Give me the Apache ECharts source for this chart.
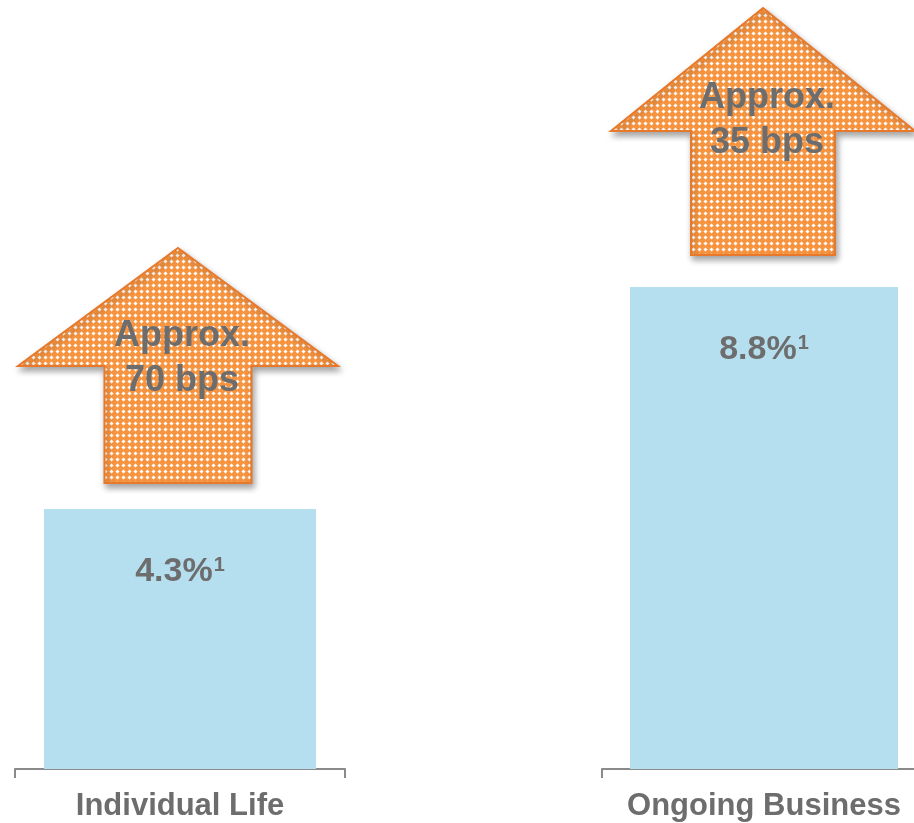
<!DOCTYPE html>
<html>
<head>
<meta charset="utf-8">
<script src="https://cdn.jsdelivr.net/npm/echarts@6/dist/echarts.min.js"></script>
<style>
html,body{margin:0;padding:0;background:#fff;}
#main{width:914px;height:823px;}
</style>
</head>
<body>
<div id="main"></div>
<script>
// ---- data ----
const categories = ['Individual Life', 'Ongoing Business'];
const values = [4.3, 8.8];
const valueLabels = ['4.3%', '8.8%'];
const footnotes = ['1', '1'];
const arrowLabels = ['Approx.\n70 bps', 'Approx.\n35 bps'];

// ---- pattern tile for arrows ----
function makePattern() {
  const c = document.createElement('canvas');
  c.width = 6; c.height = 6;
  const g = c.getContext('2d');
  g.fillStyle = '#F79440';
  g.fillRect(0, 0, 6, 6);
  g.fillStyle = '#FAB47A';
  [[3,1],[1,3],[5,3],[3,5]].forEach(p => g.fillRect(p[0], p[1], 1, 1));
  g.fillStyle = '#FFFFFF';
  [[3,2],[2,3],[3,3],[4,3],[3,4]].forEach(p => g.fillRect(p[0], p[1], 1, 1));
  g.fillStyle = '#FBC99E';
  [[2,2],[4,2],[2,4],[4,4]].forEach(p => g.fillRect(p[0], p[1], 1, 1));
  return c;
}
const pattern = makePattern();

const textColor = '#6D6D6D';
const fontFam = '"Liberation Sans", Arial, sans-serif';

function arrowSeries(idx, dims) {
  return {
    type: 'custom',
    xAxisIndex: idx,
    yAxisIndex: idx,
    data: [[0, values[idx]]],
    z: 5,
    renderItem: function (params, api) {
      const p = api.coord([api.value(0), api.value(1)]);
      const cx = p[0] + dims.dx;
      const bottom = p[1] - dims.gap;
      const top = bottom - dims.total;
      const shoulder = top + dims.head;
      const pts = [
        [cx, top],
        [cx + dims.headHalf, shoulder],
        [cx + dims.shaftHalf, shoulder],
        [cx + dims.shaftHalf, bottom],
        [cx - dims.shaftHalf, bottom],
        [cx - dims.shaftHalf, shoulder],
        [cx - dims.headHalf, shoulder]
      ];
      return {
        type: 'group',
        children: [
          {
            type: 'polygon',
            shape: { points: pts },
            style: {
              fill: { image: pattern, repeat: 'repeat' },
              stroke: '#E8782A',
              lineWidth: 2,
              shadowColor: 'rgba(0,0,0,0.35)',
              shadowBlur: 6,
              shadowOffsetX: 2,
              shadowOffsetY: 4
            }
          },
          {
            type: 'text',
            style: {
              text: arrowLabels[idx],
              x: cx + 4,
              y: top + dims.textTop,
              align: 'center',
              verticalAlign: 'top',
              font: 'bold 36px ' + fontFam,
              lineHeight: 45,
              fill: textColor
            }
          }
        ]
      };
    }
  };
}

function barSeries(idx) {
  return {
    type: 'bar',
    xAxisIndex: idx,
    yAxisIndex: idx,
    data: [values[idx]],
    barWidth: idx === 0 ? 272 : 268,
    itemStyle: { color: '#B5DFEF' },
    label: {
      show: true,
      position: 'insideTop',
      distance: 46,
      formatter: '{a|' + valueLabels[idx] + '}{s|' + footnotes[idx] + '}',
      rich: {
        a: { fontSize: 34, fontWeight: 'bold', color: textColor, fontFamily: fontFam, lineHeight: 34 },
        s: { fontSize: 20, fontWeight: 'bold', color: textColor, fontFamily: fontFam, verticalAlign: 'top', lineHeight: 34, padding: [0, 0, 12, 1] }
      }
    }
  };
}

function xAxis(idx) {
  return {
    type: 'category',
    gridIndex: idx,
    data: [categories[idx]],
    boundaryGap: true,
    axisLine: { show: true, lineStyle: { color: '#8A8A8A', width: 2 } },
    axisTick: { show: true, inside: false, length: 9, lineStyle: { color: '#8A8A8A', width: 2 } },
    axisLabel: {
      margin: 22,
      fontSize: 31,
      fontWeight: 'bold',
      fontFamily: fontFam,
      color: textColor
    }
  };
}

function yAxis(idx) {
  return {
    type: 'value',
    gridIndex: idx,
    min: 0,
    max: 10,
    show: false,
    splitLine: { show: false }
  };
}

const chart = echarts.init(document.getElementById('main'), null, { renderer: 'canvas' });
chart.setOption({
  animation: false,
  backgroundColor: '#ffffff',
  grid: [
    { left: 15, width: 330, top: 164.35, bottom: 54, containLabel: false, outerBoundsMode: 'none' },
    { left: 602, width: 324, top: 221.3, bottom: 54, containLabel: false, outerBoundsMode: 'none' }
  ],
  xAxis: [xAxis(0), xAxis(1)],
  yAxis: [yAxis(0), yAxis(1)],
  series: [
    barSeries(0),
    barSeries(1),
    arrowSeries(0, { dx: -2, gap: 26, total: 235, head: 118, headHalf: 160, shaftHalf: 73.5, textTop: 66 }),
    arrowSeries(1, { dx: -1, gap: 32, total: 247, head: 123, headHalf: 152, shaftHalf: 72, textTop: 68 })
  ]
});
</script>
</body>
</html>
